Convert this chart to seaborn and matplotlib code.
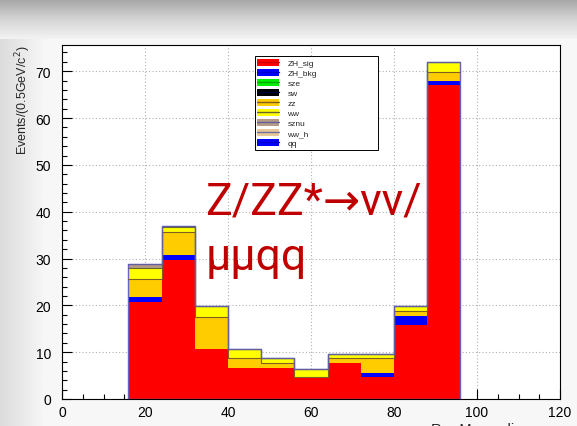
import numpy as np
import pandas as pd
import matplotlib
matplotlib.use("Agg")
import matplotlib.pyplot as plt
from matplotlib.patches import Patch
from matplotlib.lines import Line2D
from matplotlib.ticker import MultipleLocator
import seaborn as sns

# bin edges of RawMass_di_muon (GeV), 8 GeV wide
bin_edges = [16, 24, 32, 40, 48, 56, 64, 72, 80, 88, 96]
bin_centers = [20, 28, 36, 44, 52, 60, 68, 76, 84, 92]

# events per bin for each sample
zh_sig = [20.8, 29.7, 10.7, 6.7, 6.7, 4.6, 7.7, 4.6, 15.8, 67.0]
zh_bkg = [1.0, 1.1, 0.0, 0.0, 0.0, 0.0, 0.0, 1.0, 2.0, 0.9]
sze = [0, 0, 0, 0, 0, 0, 0, 0, 0, 0]
sw = [0, 0, 0, 0, 0, 0, 0, 0, 0, 0]
zz = [3.9, 4.9, 6.9, 2.0, 0.9, 0.0, 1.0, 3.1, 0.9, 2.0]
ww = [2.2, 1.1, 2.2, 2.0, 1.1, 1.9, 1.0, 1.0, 1.1, 2.1]
sznu = [0.9, 0.15, 0, 0, 0, 0, 0, 0, 0, 0]
ww_h = [0, 0, 0, 0, 0, 0, 0, 0, 0, 0]
qq = [0, 0, 0, 0, 0, 0, 0, 0, 0, 0]

samples = ["ZH_sig", "ZH_bkg", "sze", "sw", "zz", "ww", "sznu", "ww_h", "qq"]
values = [zh_sig, zh_bkg, sze, sw, zz, ww, sznu, ww_h, qq]
fill_colors = ["#ff0000", "#0000ff", "#00ee00", "#000000", "#ffcc00",
               "#ffff00", "#b59a85", "#e8c898", "#0000ff"]
line_colors = ["#cc0000", "#0000cc", "#00aa00", "#000033", "#806020",
               "#666633", "#6060a0", "#7070a0", "#0000cc"]

rows = []
for name, vals in zip(samples, values):
    for c, v in zip(bin_centers, vals):
        rows.append({"mass": c, "events": v, "sample": name})
df = pd.DataFrame(rows)

sns.set_style("ticks")
plt.rcParams["font.family"] = ["Liberation Sans", "DejaVu Sans"]

fig = plt.figure(figsize=(5.77, 4.27), dpi=100)
fig.patch.set_facecolor("#f7f7f7")

# slide-like grey band at the top and left of the screenshot
bg = fig.add_axes([0, 1 - 40 / 427, 1, 40 / 427])
grad = np.linspace(0, 1, 64).reshape(-1, 1)
bg.imshow(grad, aspect="auto", cmap=sns.blend_palette(["#a6a6a6", "#d4d4d4", "#f3f3f3"], as_cmap=True),
          extent=[0, 1, 0, 1])
bg.axis("off")
side = fig.add_axes([0, 0, 45 / 577, 1 - 40 / 427])
side.imshow(np.linspace(0, 1, 32).reshape(1, -1), aspect="auto",
            cmap=sns.blend_palette(["#dcdcdc", "#f7f7f7"], as_cmap=True), extent=[0, 1, 0, 1])
side.axis("off")

ax = fig.add_axes([62 / 577, 1 - 400 / 427, 498 / 577, 354 / 427])
ax.set_facecolor("white")

# stacked layers: seaborn puts the last hue level at the bottom
sns.histplot(data=df, x="mass", weights="events", hue="sample",
             hue_order=samples[::-1], palette=dict(zip(samples, fill_colors)),
             bins=bin_edges, multiple="stack", element="step", alpha=1,
             linewidth=0, legend=False, ax=ax)

# line at the top of the zz, ww and sznu layers
for k in [4, 5, 6]:
    sub = df[df["sample"].isin(samples[:k + 1])]
    sns.histplot(data=sub, x="mass", weights="events", bins=bin_edges,
                 element="step", fill=False, color=line_colors[k],
                 linewidth=0.8, ax=ax)

# outline of the whole stack
sns.histplot(data=df, x="mass", weights="events", bins=bin_edges,
             element="step", fill=True, color="#6464c8", facecolor="none",
             edgecolor="#6464c8", linewidth=1.0, ax=ax)

ax.set_xlim(0, 120)
ax.set_ylim(0, 75.6)
ax.xaxis.set_major_locator(MultipleLocator(20))
ax.xaxis.set_minor_locator(MultipleLocator(5))
ax.yaxis.set_major_locator(MultipleLocator(10))
ax.yaxis.set_minor_locator(MultipleLocator(2))
ax.tick_params(which="both", direction="in", top=False, right=False,
               labelsize=10, colors="black", width=0.8)
ax.tick_params(which="major", length=7, pad=4)
ax.tick_params(which="minor", length=3.5)
ax.tick_params(axis="y", which="major", pad=8)
ax.grid(True, which="major", color="#b0b0b0", linestyle=(0, (1, 2)), linewidth=0.8)
ax.set_axisbelow(True)
for s in ax.spines.values():
    s.set_color("black")
    s.set_linewidth(0.8)

ax.set_ylabel("Events/(0.5GeV/c$^2$)", fontsize=9, loc="top")
ax.yaxis.set_label_coords(-0.058, 1.0)
ax.set_xlabel("RawMass_di_muon", fontsize=10.5, loc="right")
ax.xaxis.set_label_coords(1.0, -0.062)

handles = [(Patch(facecolor=fc, edgecolor="none"), Line2D([], [], color=lc, linewidth=1))
           for fc, lc in zip(fill_colors, line_colors)]
leg = ax.legend(handles, samples, loc="upper left",
                bbox_to_anchor=(0.3875, 0.715, 0.2475, 0.253), mode="expand",
                fontsize=6, frameon=True, fancybox=False, handlelength=2.6,
                handleheight=0.9, labelspacing=0.2, borderpad=0.3,
                handletextpad=1.0, borderaxespad=0)
leg.get_frame().set_edgecolor("black")
leg.get_frame().set_linewidth(0.7)
leg.get_frame().set_facecolor("white")
leg.get_frame().set_alpha(1)

ax.text(0.288, 0.367, "Z/ZZ*\u2192\u03bd\u03bd/\n\u03bc\u03bcqq", transform=ax.transAxes,
        fontsize=32, color="#c00000", ha="left", va="baseline",
        family=["Roboto", "DejaVu Sans"], linespacing=1.4)

fig.savefig("out.png", dpi=100, facecolor=fig.get_facecolor())
